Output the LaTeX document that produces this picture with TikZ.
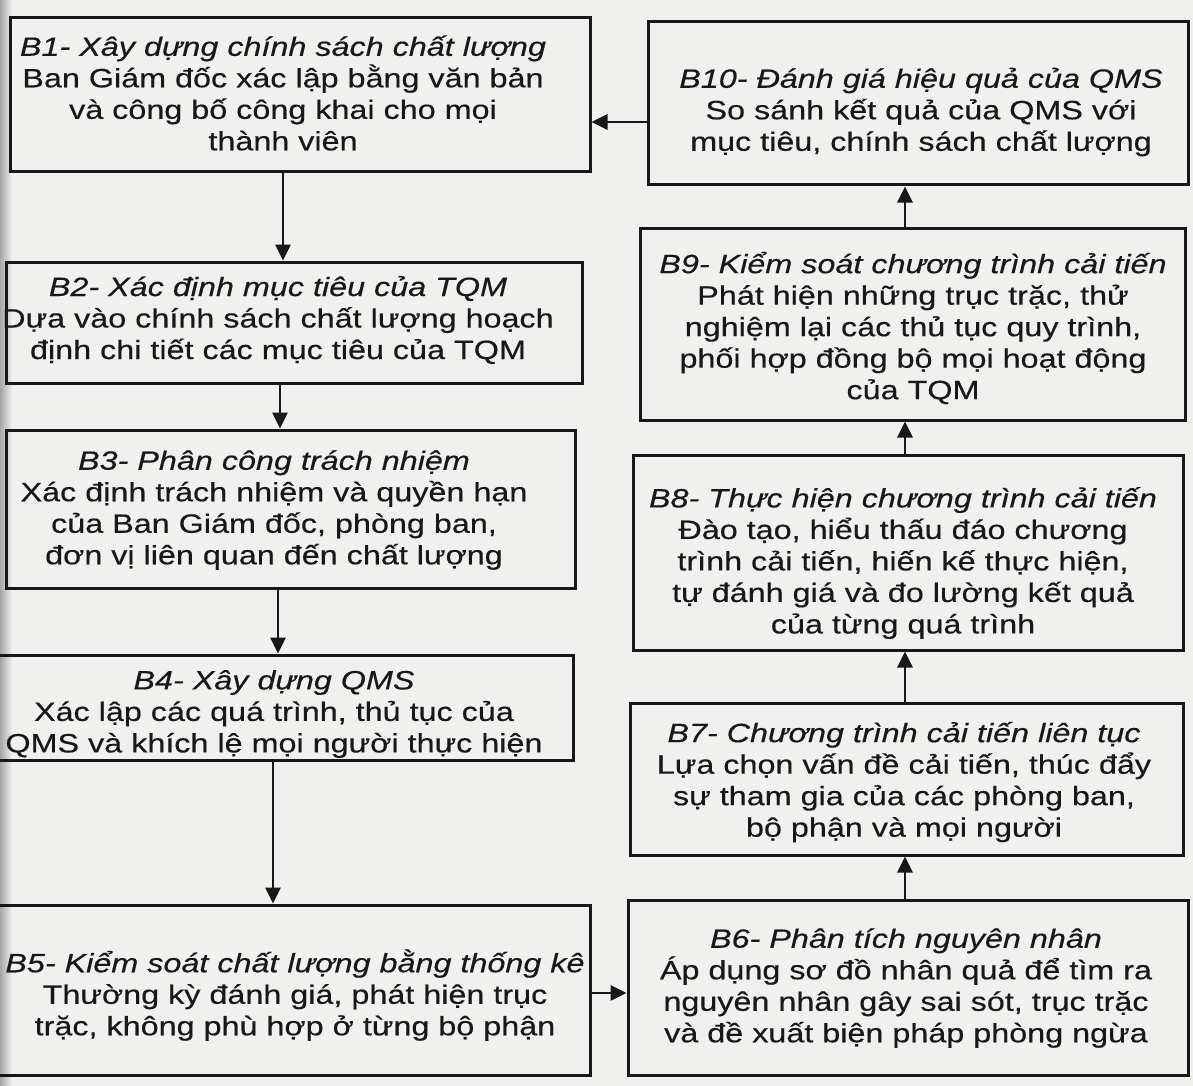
\documentclass[tikz,border=0pt]{standalone}
\usepackage{fontspec}
\setmainfont{Liberation Sans}[FakeStretch=1.22,FakeBold=0.4]
\usetikzlibrary{arrows.meta}
\definecolor{ink}{RGB}{24,24,24}
\definecolor{paper}{RGB}{240,240,238}
\begin{document}
\begin{tikzpicture}[x=1pt,y=-1pt,
  stepbox/.style={draw=ink, line width=3pt, rectangle, inner sep=0pt},
  steptext/.style={align=center, inner sep=0pt, text=ink,
    font=\fontsize{26.5}{31.5}\selectfont},
  arr/.style={draw=ink, line width=2.8pt, -{Triangle[length=16pt,width=15pt]}}]

% paper and the shadow of the binding on the left
\fill[paper] (0,0) rectangle (1193,1086);
\shade[left color=black!35, right color=paper] (0,0) rectangle (12,1086);
\useasboundingbox (0,0) rectangle (1193,1086);

% left column: B1 ... B5
\node[stepbox, minimum width=580pt, minimum height=154pt] (b1) at (300,95) {};
\node[steptext] (b1t) at (283,93) {\textit{B1- Xây dựng chính sách chất lượng}\\
  Ban Giám đốc xác lập bằng văn bản\\ và công bố công khai cho mọi\\ thành viên};

\node[stepbox, minimum width=576pt, minimum height=121pt] (b2) at (294,322.5) {};
\node[steptext] (b2t) at (278,320) {\textit{B2- Xác định mục tiêu của TQM}\\
  Dựa vào chính sách chất lượng hoạch\\ định chi tiết các mục tiêu của TQM};

\node[stepbox, minimum width=569pt, minimum height=158pt] (b3) at (290.5,509) {};
\node[steptext] (b3t) at (274,510) {\textit{B3- Phân công trách nhiệm}\\
  Xác định trách nhiệm và quyền hạn\\ của Ban Giám đốc, phòng ban,\\ đơn vị liên quan đến chất lượng};

\node[stepbox, minimum width=583pt, minimum height=105pt] (b4) at (281.5,707.5) {};
\node[steptext] (b4t) at (274,714) {\textit{B4- Xây dựng QMS}\\
  Xác lập các quá trình, thủ tục của\\ QMS và khích lệ mọi người thực hiện};

\node[stepbox, minimum width=600pt, minimum height=170pt] (b5) at (290,990) {};
\node[steptext] (b5t) at (295,995) {\textit{B5- Kiểm soát chất lượng bằng thống kê}\\
  Thường kỳ đánh giá, phát hiện trục\\ trặc, không phù hợp ở từng bộ phận};

% right column: B6 ... B10
\node[stepbox, minimum width=560pt, minimum height=175pt] (b6) at (908,987.5) {};
\node[steptext] (b6t) at (906,988) {\textit{B6- Phân tích nguyên nhân}\\
  Áp dụng sơ đồ nhân quả để tìm ra\\ nguyên nhân gây sai sót, trục trặc\\ và đề xuất biện pháp phòng ngừa};

\node[stepbox, minimum width=553pt, minimum height=152pt] (b7) at (906.5,779) {};
\node[steptext] (b7t) at (904,782) {\textit{B7- Chương trình cải tiến liên tục}\\
  Lựa chọn vấn đề cải tiến, thúc đẩy\\ sự tham gia của các phòng ban,\\ bộ phận và mọi người};

\node[stepbox, minimum width=550pt, minimum height=195pt] (b8) at (908,552.5) {};
\node[steptext] (b8t) at (903,563) {\textit{B8- Thực hiện chương trình cải tiến}\\
  Đào tạo, hiểu thấu đáo chương\\ trình cải tiến, hiến kế thực hiện,\\ tự đánh giá và đo lường kết quả\\ của từng quá trình};

\node[stepbox, minimum width=545pt, minimum height=192pt] (b9) at (912.5,324) {};
\node[steptext] (b9t) at (913,328) {\textit{B9- Kiểm soát chương trình cải tiến}\\
  Phát hiện những trục trặc, thử\\ nghiệm lại các thủ tục quy trình,\\ phối hợp đồng bộ mọi hoạt động\\ của TQM};

\node[stepbox, minimum width=540pt, minimum height=163pt] (b10) at (918,103.5) {};
\node[steptext] (b10t) at (921,112) {\textit{B10- Đánh giá hiệu quả của QMS}\\
  So sánh kết quả của QMS với\\ mục tiêu, chính sách chất lượng};

% column lines for the connectors
\coordinate (c1) at (283,0);
\coordinate (c2) at (280,0);
\coordinate (c3) at (278,0);
\coordinate (c4) at (273,0);
\coordinate (cr) at (905,0);
\coordinate (rtop) at (0,122);
\coordinate (rbot) at (0,993);

% connectors
\draw[arr] (b1.south -| c1) -- (b2.north -| c1);
\draw[arr] (b2.south -| c2) -- (b3.north -| c2);
\draw[arr] (b3.south -| c3) -- (b4.north -| c3);
\draw[arr] (b4.south -| c4) -- (b5.north -| c4);
\draw[arr] (b5.east |- rbot) -- (b6.west |- rbot);
\draw[arr] (b6.north -| cr) -- (b7.south -| cr);
\draw[arr] (b7.north -| cr) -- (b8.south -| cr);
\draw[arr] (b8.north -| cr) -- (b9.south -| cr);
\draw[arr] (b9.north -| cr) -- (b10.south -| cr);
\draw[arr] (b10.west |- rtop) -- (b1.east |- rtop);
\end{tikzpicture}
\end{document}
